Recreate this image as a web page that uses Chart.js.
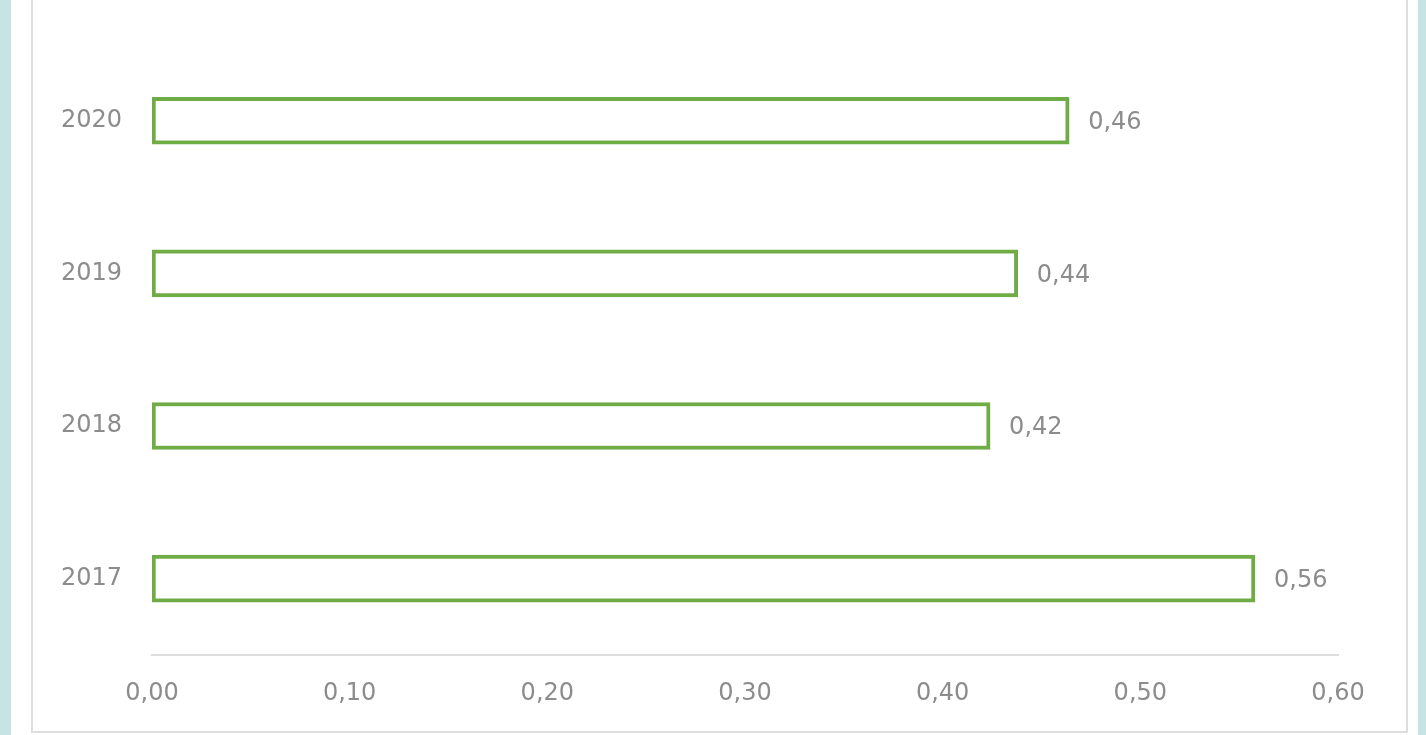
<!DOCTYPE html>
<html>
<head>
<meta charset="utf-8">
<script src="https://cdn.jsdelivr.net/npm/chart.js@4/dist/chart.umd.min.js"></script>
<style>
  html, body { margin: 0; padding: 0; width: 1426px; height: 735px; overflow: hidden; background: #c6e4e4; }
  #card { position: absolute; left: 11px; top: 0; width: 1407px; height: 735px; background: #ffffff; }
  #box { position: absolute; left: 31px; top: -5px; width: 1373px; height: 734px; border: 2px solid #dedede; background: #fff; }
  #wrap { position: absolute; left: 0; top: 0; width: 1426px; height: 735px; }
</style>
</head>
<body>
<div id="card"></div>
<div id="box"></div>
<div id="wrap"><canvas id="c" width="1426" height="735"></canvas></div>
<script>
const categories = ['2020', '2019', '2018', '2017'];
const values = [0.464, 0.438, 0.424, 0.558];
const tickValues = [0, 0.1, 0.2, 0.3, 0.4, 0.5, 0.6];

const fmt = v => v.toFixed(2).replace('.', ',');
const FONT = { family: '"DejaVu Sans", sans-serif', size: 24 };
const TEXT = '#8c8c8c';

const valueLabels = {
  id: 'valueLabels',
  afterDatasetsDraw(chart) {
    const ctx = chart.ctx;
    ctx.save();
    ctx.font = FONT.size + 'px ' + FONT.family;
    ctx.fillStyle = TEXT;
    ctx.textAlign = 'left';
    ctx.textBaseline = 'middle';
    chart.getDatasetMeta(0).data.forEach((el, i) => {
      ctx.fillText(fmt(values[i]), el.x + 19, el.y + 2);
    });
    ctx.restore();
  }
};

new Chart(document.getElementById('c'), {
  type: 'bar',
  data: {
    labels: categories,
    datasets: [{
      data: values,
      backgroundColor: '#ffffff',
      borderColor: '#6fac46',
      borderWidth: 4,
      borderSkipped: false,
      barThickness: 47
    }]
  },
  options: {
    indexAxis: 'y',
    responsive: false,
    animation: false,
    devicePixelRatio: 1,
    layout: { padding: { left: 0, right: 88, top: 38, bottom: 0 } },
    plugins: { legend: { display: false }, tooltip: { enabled: false } },
    scales: {
      x: {
        min: 0, max: 0.6,
        afterBuildTicks: s => { s.ticks = tickValues.map(v => ({ value: v })); },
        afterFit: s => { s.height = 80; },
        grid: { display: false, drawTicks: false },
        border: { display: true, color: '#dcdcdc', width: 2 },
        ticks: { color: TEXT, font: FONT, padding: 24, callback: v => fmt(v), maxRotation: 0 }
      },
      y: {
        afterFit: s => { s.width = 152; },
        grid: { display: false, drawTicks: false },
        border: { display: false },
        ticks: { color: TEXT, font: FONT, padding: 30 }
      }
    }
  },
  plugins: [valueLabels]
});
</script>
</body>
</html>
